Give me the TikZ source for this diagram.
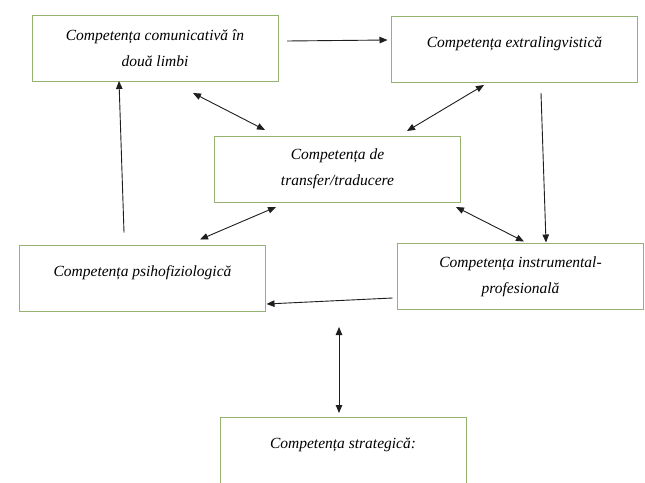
\documentclass[tikz,border=0pt]{standalone}
\usepackage{fontspec}
\setmainfont{Liberation Serif}
\usetikzlibrary{arrows.meta,calc}
\definecolor{boxgreen}{RGB}{150,178,115}
\definecolor{arrowgray}{RGB}{30,30,30}

\begin{document}
\begin{tikzpicture}[
    x=1pt, y=-1pt,
    compbox/.style={draw=boxgreen, line width=0.8pt, fill=white,
                    font=\itshape\fontsize{15.5}{26}\selectfont,
                    minimum width=246pt, minimum height=66pt,
                    align=center, inner sep=3pt, outer sep=0pt},
    oneline/.style={text depth=14pt},
    link/.style={draw=arrowgray, line width=0.9pt, -{Triangle[length=8pt,width=6.5pt]}},
    twoway/.style={link, {Triangle[length=8pt,width=6.5pt]}-{Triangle[length=8pt,width=6.5pt]}},
]
\useasboundingbox[fill=white] (0,0) rectangle (645,482);

% boxes
\node[compbox] (comunic) at (155,48) {Competența comunicativă în\\două limbi};
\node[compbox, oneline] (extra) at (514.5,49) {Competența extralingvistică};
\node[compbox] (transfer) at (337.5,169) {Competența de\\transfer/traducere};
\node[compbox, oneline] (psiho) at (142.5,278.5) {Competența psihofiziologică};
\node[compbox] (instrum) at (520.5,276.5) {Competența instrumental-\\profesională};
\node[compbox, oneline] (strateg) at (343,450) {Competența strategică:};
\coordinate (sfree) at (339,327);

% connectors
\draw[link] ($(comunic.east)+(9,-7)$) -- ($(extra.west)+(-4,-9)$);
\draw[twoway] ($(comunic.south)+(38,12)$) -- ($(transfer.north)+(-72.5,-6)$);
\draw[twoway] ($(extra.south)+(-30.5,3)$) -- ($(transfer.north)+(69.5,-5)$);
\draw[twoway] ($(transfer.south)+(-61.5,5)$) -- ($(psiho.north)+(57.5,-6)$);
\draw[twoway] ($(transfer.south)+(118.5,5)$) -- ($(instrum.north)+(3.5,-2)$);
\draw[link] ($(extra.south)+(26.5,11)$) -- ($(instrum.north)+(25.5,-1)$);
\draw[link] ($(psiho.north)+(-18.5,-13)$) -- ($(comunic.south)+(-36,0)$);
\draw[link] ($(instrum.west)+(-5,21.5)$) -- ($(psiho.east)+(1,25.5)$);
\draw[twoway] (sfree) -- ($(strateg.north)+(-4,-4)$);
\end{tikzpicture}
\end{document}
